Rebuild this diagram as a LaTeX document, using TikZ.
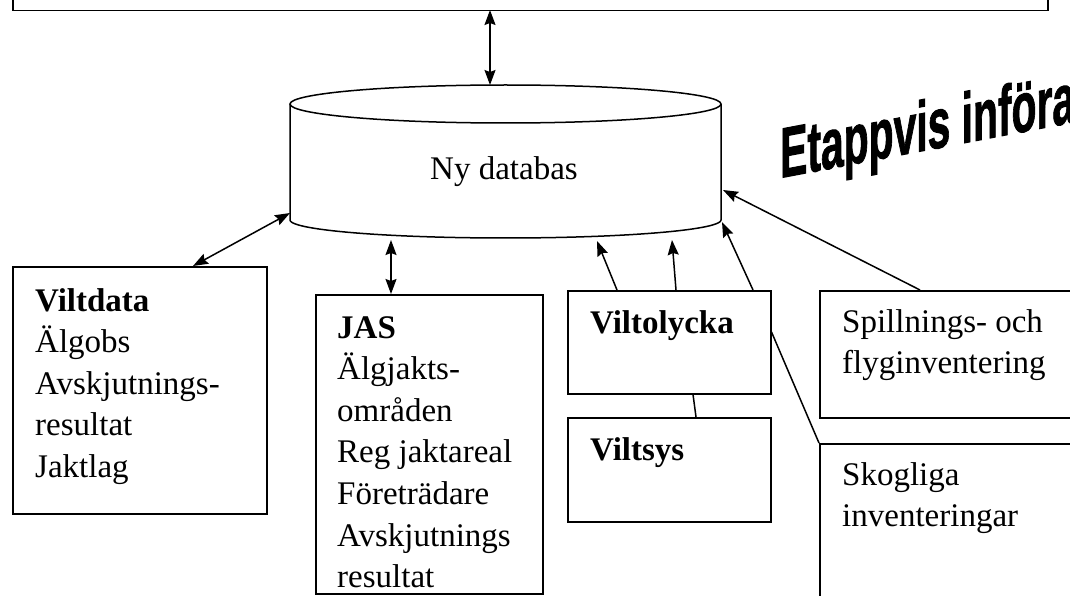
\documentclass[tikz,border=0pt]{standalone}
\usepackage{fontspec}
\setmainfont{Liberation Serif}
\newfontfamily\etfont[FakeBold=1.5]{Liberation Sans Bold}
\usepackage{graphicx}
\usetikzlibrary{arrows.meta,calc}
\begin{document}
\begin{tikzpicture}[x=1pt,y=-1pt,
  box/.style={draw, line width=1.5pt, rectangle, inner sep=0pt, anchor=north west},
  txt/.style={anchor=base west, inner sep=0pt},
  conn/.style={line width=1.5pt},
  tip/.tip={Stealth[length=15pt,width=11pt,inset=2pt]},
  dbl/.style={conn, tip-tip},
  one/.style={conn, -tip}]
\useasboundingbox (0,0) rectangle (1070,596);
\clip (0,0) rectangle (1070,596);
\newcommand\bt[2]{\parbox[t]{#1pt}{\raggedright\fontsize{33}{41.6}\selectfont #2}}
% top box
\node[box, minimum width=1035, minimum height=40] (top) at (12,-30) {};
% cylinder
\fill[white] (290,104) -- (290,220) -- (721,220) -- (721,104) -- cycle;
\draw[conn] (505.5,104) ellipse [x radius=215.5, y radius=19];
\draw[conn] (290,104) -- (290,220)
  plot[domain=180:360, samples=60] ({505.5+215.5*cos(\x)},{220-18*sin(\x)})
  -- (721,104);
\node[anchor=base, inner sep=0pt, font=\fontsize{33}{40}\selectfont] (db) at (504,179) {Ny databas};
\coordinate (tT) at (490,10);
\coordinate (cT) at (490,85);
\coordinate (cL) at (290,213);
\coordinate (cJ) at (391,240);
\coordinate (cV1) at (597,241);
\coordinate (cV2) at (672,240);
\coordinate (cV3) at (722,222);
\coordinate (cS) at (723,190);
% boxes
\node[box, minimum width=254, minimum height=247] (vd) at (12,266) {};
\node[box, minimum width=227, minimum height=299] (jas) at (315,294) {};
\node[box, minimum width=203, minimum height=103] (vo) at (567,290) {};
\node[box, minimum width=203, minimum height=104] (vs) at (567,417) {};
\node[box, minimum width=300, minimum height=127] (sp) at (819,290) {};
\node[box, minimum width=300, minimum height=200] (sk) at (819,443) {};
% texts
\node[txt] (vdt) at (35,311) {\bt{230}{\textbf{Viltdata}\\Älgobs\\Avskjutnings-\\resultat\\Jaktlag}};
\node[txt] (jast) at (337,338) {\bt{205}{\textbf{JAS}\\Älgjakts-\\områden\\Reg jaktareal\\Företrädare\\Avskjutnings\\resultat}};
\node[txt] (vot) at (590,333) {\bt{180}{\textbf{Viltolycka}}};
\node[txt] (vst) at (590,460) {\bt{180}{\textbf{Viltsys}}};
\node[txt] (spt) at (842,332) {\bt{240}{Spillnings- och\\flyginventering}};
\node[txt] (skt) at (842,485) {\bt{240}{Skogliga\\inventeringar}};
% slanted title
\node[anchor=base west, inner sep=0pt, yslant=0.19,
  font=\etfont\fontsize{71}{71}\selectfont] (et) at (780,178)
  {\scalebox{0.575}[1]{Etappvis införa}};
% connectors
\draw[dbl] (tT) -- (cT);
\draw[dbl] (cL) -- ([xshift=181pt]vd.north west);
\draw[dbl] (cJ) -- ([xshift=76pt]jas.north west);
\draw[one] ([xshift=50pt]vo.north west) -- (cV1);
\draw[one] ([xshift=109pt]vo.north west) -- (cV2);
\draw[one] ([xshift=186pt]vo.north west) -- (cV3);
\draw[one] ([xshift=101pt]sp.north west) -- (cS);
\draw[conn] ([yshift=-42pt]vo.north east) -- (sk.north west);
\draw[conn] ([xshift=126pt]vo.south west) -- ([xshift=129pt]vs.north west);
\end{tikzpicture}
\end{document}
